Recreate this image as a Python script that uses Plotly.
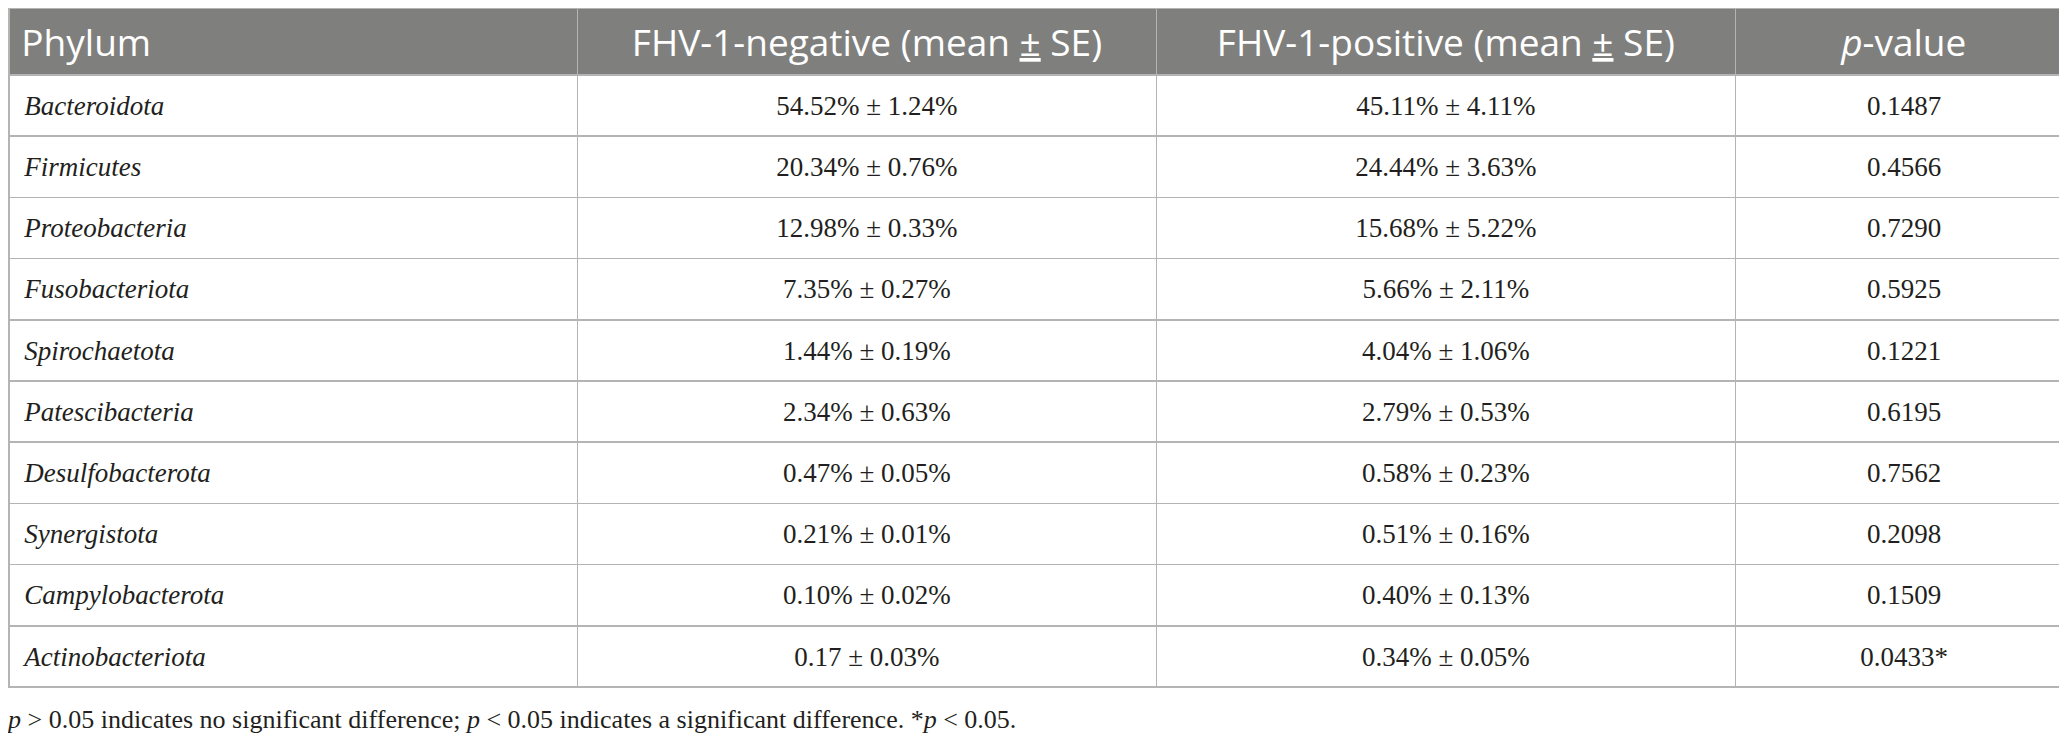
import plotly.graph_objects as go

phyla = ["Bacteroidota", "Firmicutes", "Proteobacteria", "Fusobacteriota", "Spirochaetota",
         "Patescibacteria", "Desulfobacterota", "Synergistota", "Campylobacterota", "Actinobacteriota"]
negative = ["54.52% ± 1.24%", "20.34% ± 0.76%", "12.98% ± 0.33%", "7.35% ± 0.27%", "1.44% ± 0.19%",
            "2.34% ± 0.63%", "0.47% ± 0.05%", "0.21% ± 0.01%", "0.10% ± 0.02%", "0.17 ± 0.03%"]
positive = ["45.11% ± 4.11%", "24.44% ± 3.63%", "15.68% ± 5.22%", "5.66% ± 2.11%", "4.04% ± 1.06%",
            "2.79% ± 0.53%", "0.58% ± 0.23%", "0.51% ± 0.16%", "0.40% ± 0.13%", "0.34% ± 0.05%"]
pvalues = ["0.1487", "0.4566", "0.7290", "0.5925", "0.1221",
           "0.6195", "0.7562", "0.2098", "0.1509", "0.0433*"]
headers = ["Phylum",
           "FHV-1-negative (mean <u>±</u> SE)",
           "FHV-1-positive (mean <u>±</u> SE)",
           "<i>p</i>-value"]
footnote = ("<i>p</i> &gt; 0.05 indicates no significant difference; <i>p</i> &lt; 0.05 "
            "indicates a significant difference. *<i>p</i> &lt; 0.05.")

W, H = 2067, 742
HEAD_SIZE = 37
BODY_SIZE = 27


def vcenter(texts, size, lead=""):
    # a blank first line in the small cell font pushes the real text down to the row middle
    return ["\u00a0<br>%s<span style='font-size:%dpx'>%s</span>" % (lead, size, t) for t in texts]


header_vals = vcenter([headers[0]], HEAD_SIZE, lead="\u00a0") + headers[1:]

fig = go.Figure(go.Table(
    domain=dict(x=[1 / W, 2065 / W], y=[0.0, 1.0]),
    columnwidth=[568.5, 578.5, 579, 337.5],
    header=dict(
        values=header_vals,
        fill_color="#7f807e",
        line=dict(color="#b4b4b4", width=1.5),
        align=["left", "center", "center", "center"],
        font=dict(family="Open Sans", size=[16.7, HEAD_SIZE, HEAD_SIZE, HEAD_SIZE], color="white"),
        height=66.5,
    ),
    cells=dict(
        values=[vcenter(["<i>" + p + "</i>" for p in phyla], BODY_SIZE, lead="\u00a0\u00a0"),
                vcenter(negative, BODY_SIZE), vcenter(positive, BODY_SIZE),
                vcenter(pvalues, BODY_SIZE)],
        fill_color="white",
        line=dict(color="#b4b4b4", width=1.5),
        align=["left", "center", "center", "center"],
        font=dict(family="Liberation Serif", size=14.5, color="#231f20"),
        height=61.2,
    ),
))

fig.add_annotation(
    text=footnote, xref="paper", yref="paper", x=-0.002, y=1 - 711 / H,
    xanchor="left", yanchor="middle", showarrow=False,
    font=dict(family="Liberation Serif", size=26, color="#231f20"),
)

fig.update_layout(width=W, height=H, margin=dict(l=0, r=0, t=0, b=0),
                  paper_bgcolor="white", plot_bgcolor="white")

fig.write_html("out.html")
